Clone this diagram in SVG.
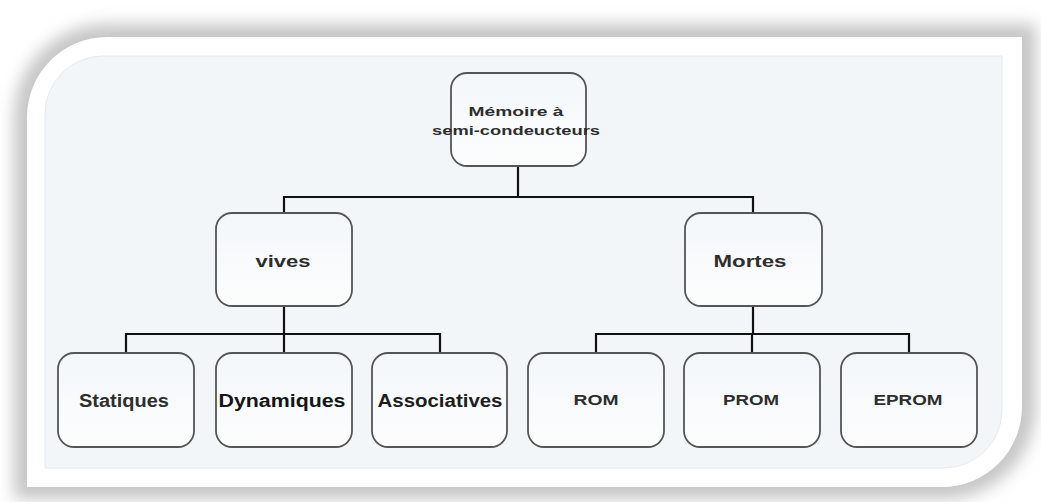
<svg xmlns="http://www.w3.org/2000/svg" width="1041" height="502" viewBox="0 0 1041 502">
  <defs>
    <filter id="soft" x="-10%" y="-10%" width="120%" height="120%">
      <feGaussianBlur stdDeviation="8"/>
    </filter>
    <linearGradient id="boxFill" x1="0" y1="0" x2="0" y2="1">
      <stop offset="0" stop-color="#f3f7fa"/>
      <stop offset="1" stop-color="#fdfdfd"/>
    </linearGradient>
    <style>
      .node rect { fill: url(#boxFill); stroke: #555; stroke-width: 1.8; }
      .node text { font-family: "Liberation Sans", Arial, sans-serif; font-weight: bold; fill: #2e2e2e; text-anchor: middle; }
      .links path { fill: none; stroke: #111; stroke-width: 2.2; }
    </style>
  </defs>

  <rect width="1041" height="502" fill="#ffffff"/>

  <!-- frame shadow -->
  <path d="M14,117 A93,93 0 0 1 107,24 H1036 V407 A93,93 0 0 1 942,499 H14 Z" fill="#c6c6c6" filter="url(#soft)"/>

  <!-- white frame -->
  <path d="M27,117 A80,80 0 0 1 107,37 H1022 V407 A80,80 0 0 1 942,487 H27 Z" fill="#ffffff"/>

  <!-- inner panel -->
  <path d="M45,114 A58,58 0 0 1 103,56 H1002 V410 A58,58 0 0 1 944,468 H45 Z" fill="#f3f6f9" stroke="#e4eaee" stroke-width="1"/>

  <!-- connectors -->
  <g class="links">
    <path d="M518,166 V197"/>
    <path d="M284,213 V197 H753 V213"/>
    <path d="M284,306 V334"/>
    <path d="M126,353 V334 H440 V353"/>
    <path d="M284,334 V353"/>
    <path d="M753,306 V334"/>
    <path d="M596,353 V334 H909 V353"/>
    <path d="M752,334 V353"/>
  </g>

  <g id="node-memoire" class="node">
    <rect x="451" y="73" width="135" height="93" rx="16"/>
    <text x="516" y="116" font-size="13" textLength="95" lengthAdjust="spacingAndGlyphs">Mémoire à</text>
    <text x="516" y="135" font-size="13" textLength="168" lengthAdjust="spacingAndGlyphs">semi-condeucteurs</text>
  </g>

  <g id="node-vives" class="node">
    <rect x="216" y="213" width="136" height="93" rx="16"/>
    <text x="283" y="267" font-size="17" textLength="55" lengthAdjust="spacingAndGlyphs">vives</text>
  </g>

  <g id="node-mortes" class="node">
    <rect x="685" y="213" width="137" height="93" rx="16"/>
    <text x="750" y="267" font-size="16" textLength="73" lengthAdjust="spacingAndGlyphs">Mortes</text>
  </g>

  <g id="node-statiques" class="node">
    <rect x="58" y="353" width="136" height="94" rx="16"/>
    <text x="124" y="407" font-size="18" fill="#3a3a3a" textLength="90" lengthAdjust="spacingAndGlyphs">Statiques</text>
  </g>

  <g id="node-dynamiques" class="node">
    <rect x="216" y="353" width="136" height="94" rx="16"/>
    <text x="282" y="407" font-size="18" style="fill:#151515" textLength="127" lengthAdjust="spacingAndGlyphs">Dynamiques</text>
  </g>

  <g id="node-associatives" class="node">
    <rect x="372" y="353" width="135" height="94" rx="16"/>
    <text x="440" y="407" font-size="18" style="fill:#1e1e1e" textLength="125" lengthAdjust="spacingAndGlyphs">Associatives</text>
  </g>

  <g id="node-rom" class="node">
    <rect x="528" y="353" width="136" height="94" rx="16"/>
    <text x="596" y="405" font-size="14" textLength="45" lengthAdjust="spacingAndGlyphs">ROM</text>
  </g>

  <g id="node-prom" class="node">
    <rect x="684" y="353" width="136" height="94" rx="16"/>
    <text x="751" y="405" font-size="14" textLength="56" lengthAdjust="spacingAndGlyphs">PROM</text>
  </g>

  <g id="node-eprom" class="node">
    <rect x="841" y="353" width="136" height="94" rx="16"/>
    <text x="908" y="405" font-size="14" textLength="69" lengthAdjust="spacingAndGlyphs">EPROM</text>
  </g>
</svg>
